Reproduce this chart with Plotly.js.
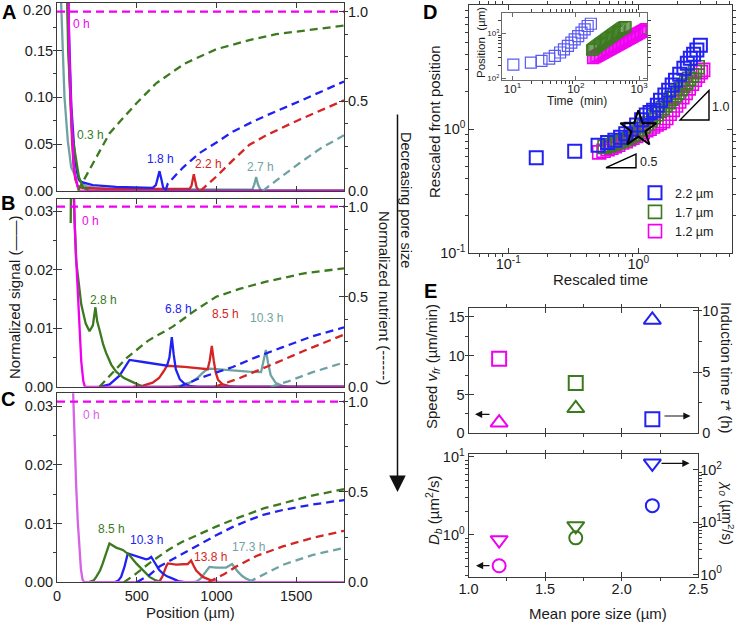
<!DOCTYPE html>
<html><head><meta charset="utf-8">
<script src="https://cdn.plot.ly/plotly-3.0.1.min.js"></script>
<style>body{margin:0;background:#fff}#chart{width:736px;height:623px}</style>
</head><body><div id="chart"></div>
<script>
// ================= DATA =================
// ---- Panel A (largest pores) : position (um), normalized signal (solid), normalized nutrient (dashed)
const posA_0h  = [20, 55, 68, 77, 86, 97, 104, 112, 120, 130, 142, 1800];
const sigA_0h  = [0.8, 0.4, 0.2, 0.15, 0.1, 0.05, 0.03, 0.018, 0.01, 0.004, 0, 0];
const posA_03h = [20, 70, 95, 103, 110, 120, 137, 162, 193, 220, 1800];
const sigA_03h = [0.6, 0.15, 0.06, 0.052, 0.045, 0.033, 0.015, 0.004, 0.0005, 0, 0];
const posA_18h = [20, 60, 75, 90, 110, 125, 141, 162, 224, 371, 500, 600, 620, 632, 643, 655, 665, 680, 1800];
const sigA_18h = [0.8, 0.3, 0.17, 0.09, 0.04, 0.02, 0.011, 0.009, 0.006, 0.0043, 0.0037, 0.0032, 0.006, 0.014, 0.021, 0.012, 0.004, 0, 0];
const posA_22h = [20, 58, 66, 75, 84, 95, 105, 115, 130, 160, 300, 500, 700, 830, 843, 851, 858, 866, 875, 890, 1800];
const sigA_22h = [0.8, 0.3, 0.2, 0.14, 0.09, 0.05, 0.025, 0.012, 0.005, 0.003, 0.0022, 0.002, 0.0019, 0.0019, 0.005, 0.012, 0.0178, 0.011, 0.004, 0, 0];
const posA_27h = [5, 26, 47, 68, 89, 115, 141, 180, 250, 400, 800, 1100, 1225, 1238, 1249, 1260, 1275, 1290, 1800];
const sigA_27h = [0.45, 0.2, 0.1, 0.053, 0.025, 0.016, 0.0107, 0.005, 0.0025, 0.0018, 0.0014, 0.0013, 0.0013, 0.007, 0.0148, 0.007, 0.0015, 0, 0];
const nutA_0h_x  = [0, 1800];
const nutA_0h    = [1, 1];
const nutA_03h_x = [131, 200, 266, 329, 403, 500, 622, 800, 998, 1200, 1374, 1600, 1800];
const nutA_03h   = [0, 0.11, 0.218, 0.32, 0.395, 0.49, 0.60, 0.71, 0.79, 0.84, 0.874, 0.90, 0.922];
const nutA_18h_x = [680, 695, 790, 893, 1000, 1102, 1226, 1312, 1521, 1800];
const nutA_18h   = [0, 0.04, 0.13, 0.21, 0.27, 0.33, 0.385, 0.42, 0.50, 0.61];
const nutA_22h_x = [900, 1000, 1102, 1207, 1312, 1520, 1800];
const nutA_22h   = [0, 0.08, 0.17, 0.257, 0.31, 0.397, 0.505];
const nutA_27h_x = [1290, 1400, 1520, 1650, 1800];
const nutA_27h   = [0, 0.075, 0.154, 0.235, 0.31];

// ---- Panel B
const posB_0h   = [60, 100, 110, 120, 130, 140, 152, 165, 175, 1800];
const sigB_0h   = [0.1, 0.04, 0.0285, 0.022, 0.0159, 0.009, 0.0044, 0.001, 0, 0];
const posB_28h  = [86, 92, 100, 120, 152, 180, 204, 225, 241, 252, 266, 290, 308, 340, 371, 420, 475, 540, 1800];
const sigB_28h  = [0.028, 0.05, 0.036, 0.0216, 0.0141, 0.0108, 0.0095, 0.0105, 0.0136, 0.0112, 0.0098, 0.0072, 0.0058, 0.0038, 0.0026, 0.0015, 0.0008, 0, 0];
const posB_68h  = [266, 330, 392, 430, 455, 550, 650, 690, 705, 720, 732, 745, 770, 800, 840, 880, 1800];
const sigB_68h  = [0, 0.0004, 0.0019, 0.0036, 0.0046, 0.0042, 0.0038, 0.0036, 0.005, 0.0085, 0.0055, 0.003, 0.0013, 0.0005, 0.0001, 0, 0];
const posB_85h  = [480, 540, 600, 640, 670, 690, 800, 900, 945, 958, 971, 983, 995, 1010, 1040, 1080, 1120, 1800];
const sigB_85h  = [0, 0.0002, 0.0007, 0.0015, 0.0027, 0.0036, 0.0034, 0.0031, 0.003, 0.0045, 0.007, 0.0045, 0.0025, 0.0012, 0.0004, 0.0001, 0, 0];
const posB_103h = [720, 780, 840, 880, 910, 940, 960, 1000, 1100, 1200, 1280, 1295, 1310, 1323, 1340, 1370, 1410, 1450, 1800];
const sigB_103h = [0, 0.0002, 0.0008, 0.0015, 0.0023, 0.003, 0.0031, 0.003, 0.0028, 0.0026, 0.0025, 0.0042, 0.0063, 0.0042, 0.002, 0.0007, 0.0002, 0, 0];
const nutB_0h_x   = [0, 1800];
const nutB_0h     = [1, 1];
const nutB_28h_x  = [266, 350, 434, 570, 726, 860, 998, 1150, 1312, 1550, 1800];
const nutB_28h    = [0, 0.08, 0.158, 0.255, 0.334, 0.42, 0.50, 0.545, 0.584, 0.63, 0.658];
const nutB_68h_x  = [768, 900, 1102, 1250, 1416, 1600, 1800];
const nutB_68h    = [0, 0.05, 0.11, 0.165, 0.22, 0.28, 0.33];
const nutB_85h_x  = [990, 1150, 1312, 1550, 1800];
const nutB_85h    = [0, 0.05, 0.11, 0.20, 0.29];
const nutB_103h_x = [1340, 1450, 1600, 1800];
const nutB_103h   = [0, 0.03, 0.08, 0.135];

// ---- Panel C (smallest pores)
const posC_0h   = [80, 99, 110, 120, 130, 141, 150, 160, 170, 1800];
const sigC_0h   = [0.05, 0.0324, 0.022, 0.0166, 0.0105, 0.0052, 0.0022, 0.0005, 0, 0];
const posC_85h  = [200, 230, 246, 270, 287, 305, 319, 329, 371, 413, 455, 497, 538, 580, 620, 660, 1800];
const sigC_85h  = [0, 0.0003, 0.0009, 0.002, 0.0032, 0.0045, 0.0058, 0.0066, 0.0059, 0.0055, 0.0046, 0.0032, 0.002, 0.0009, 0.0003, 0, 0];
const posC_103h = [360, 385, 402, 423, 444, 470, 497, 530, 559, 575, 591, 605, 622, 640, 663, 690, 726, 760, 800, 1800];
const sigC_103h = [0, 0.0003, 0.0009, 0.0026, 0.0049, 0.0047, 0.0045, 0.0042, 0.0039, 0.004, 0.0043, 0.0037, 0.0029, 0.0021, 0.0015, 0.001, 0.0006, 0.0002, 0, 0];
const posC_138h = [620, 643, 660, 674, 685, 695, 747, 820, 841, 857, 873, 914, 977, 1020, 1800];
const sigC_138h = [0, 0.0002, 0.0009, 0.002, 0.0027, 0.0032, 0.003, 0.0031, 0.0037, 0.0028, 0.002, 0.0009, 0.0002, 0, 0];
const posC_173h = [850, 873, 900, 925, 945, 956, 998, 1061, 1098, 1115, 1134, 1160, 1186, 1220, 1250, 1800];
const sigC_173h = [0, 0.0001, 0.0006, 0.0015, 0.0022, 0.0026, 0.0025, 0.0025, 0.0031, 0.0025, 0.0018, 0.0011, 0.0006, 0.0002, 0, 0];
const nutC_0h_x   = [0, 1800];
const nutC_0h     = [1, 1];
const nutC_85h_x  = [420, 500, 580, 700, 789, 900, 998, 1100, 1207, 1300, 1416, 1600, 1800];
const nutC_85h    = [0, 0.05, 0.106, 0.18, 0.225, 0.27, 0.308, 0.345, 0.382, 0.41, 0.437, 0.48, 0.515];
const nutC_103h_x = [500, 580, 643, 789, 900, 998, 1100, 1207, 1300, 1416, 1600, 1800];
const nutC_103h   = [0, 0.04, 0.087, 0.16, 0.215, 0.26, 0.305, 0.345, 0.375, 0.40, 0.43, 0.455];
const nutC_138h_x = [950, 1050, 1124, 1250, 1416, 1600, 1800];
const nutC_138h   = [0, 0.045, 0.087, 0.145, 0.198, 0.245, 0.285];
const nutC_173h_x = [1200, 1300, 1416, 1600, 1800];
const nutC_173h   = [0, 0.045, 0.096, 0.15, 0.19];

// ---- Panel D : rescaled time vs rescaled front position
const blueT = [0.164, 0.324, 0.49, 0.58, 0.66, 0.73, 0.80, 0.88, 0.97, 1.06, 1.15, 1.23, 1.31, 1.40, 1.48, 1.60, 1.71, 1.82, 1.93, 2.08, 2.24, 2.38, 2.51, 2.66, 2.82, 3.0];
const blueR = [0.587, 0.665, 0.743, 0.78, 0.815, 0.86, 0.92, 1.0, 1.08, 1.19, 1.30, 1.36, 1.42, 1.56, 1.71, 1.88, 2.06, 2.27, 2.48, 2.77, 3.09, 3.40, 3.72, 4.02, 4.34, 4.75];
const greenT = [0.55, 0.60, 0.65, 0.70, 0.75, 0.80, 0.86, 0.92, 0.98, 1.04, 1.10, 1.17, 1.24, 1.31, 1.38, 1.46, 1.54, 1.62, 1.71, 1.80, 1.90, 2.00, 2.11, 2.22, 2.34, 2.46, 2.59, 2.72, 2.86];
const greenR = [0.72, 0.74, 0.765, 0.785, 0.81, 0.83, 0.86, 0.90, 0.95, 1.00, 1.05, 1.11, 1.18, 1.25, 1.32, 1.40, 1.48, 1.56, 1.65, 1.76, 1.87, 1.97, 2.10, 2.24, 2.38, 2.54, 2.71, 2.90, 3.15];
const magT = [0.50, 0.54, 0.58, 0.62, 0.66, 0.70, 0.75, 0.80, 0.85, 0.90, 0.96, 1.02, 1.08, 1.15, 1.22, 1.30, 1.38, 1.46, 1.55, 1.64, 1.74, 1.84, 1.95, 2.06, 2.18, 2.31, 2.44, 2.58, 2.72, 2.87, 3.02, 3.15];
const magR = [0.65, 0.67, 0.69, 0.71, 0.73, 0.75, 0.78, 0.80, 0.83, 0.855, 0.88, 0.91, 0.945, 0.98, 1.01, 1.05, 1.09, 1.12, 1.16, 1.23, 1.33, 1.43, 1.55, 1.67, 1.81, 1.96, 2.13, 2.32, 2.50, 2.70, 2.88, 3.0];
const starT = [1.0];
const starR = [1.0];
const legendNames = ['2.2 \u00b5m', '1.7 \u00b5m', '1.2 \u00b5m'];

// ---- Panel D inset : time (min) vs position (um)
const inBlueT = [10.3, 19.5, 28.7, 38, 46.6, 56.5, 65, 75, 85, 96, 109, 123, 138, 154, 173];
const inBlueP = [205, 227, 248, 278, 318, 380, 448, 533, 631, 745, 884, 1050, 1250, 1480, 1660];
const inGreenT = [180, 187, 195, 203, 212, 221, 231, 241, 252, 263, 275, 287, 300, 313, 327, 341, 356, 372, 388, 405, 423, 442, 461, 481, 502, 524, 547, 571, 596, 615];
const inGreenP = [430, 450, 470, 492, 514, 537, 562, 588, 615, 643, 673, 703, 736, 768, 803, 838, 875, 915, 955, 997, 1042, 1088, 1135, 1185, 1236, 1290, 1345, 1380, 1400, 1410];
const inMagT = [187, 197, 207, 218, 229, 241, 253, 266, 280, 294, 309, 325, 342, 359, 378, 397, 417, 439, 461, 485, 510, 536, 563, 592, 622, 654, 688, 723, 760, 799, 840, 883, 928, 975, 1025, 1078, 1133, 1191, 1252, 1300];
const inMagP = [286, 297, 308, 320, 332, 345, 358, 372, 387, 402, 418, 434, 451, 468, 487, 505, 525, 546, 567, 590, 613, 637, 662, 689, 716, 744, 773, 803, 835, 868, 902, 937, 974, 1012, 1052, 1093, 1136, 1180, 1225, 1260];

// ---- Panel E
const poreSize      = [1.2, 1.7, 2.2];
const speedVfr      = [1.37, 3.22, 14.6];   // um/min (triangles, left)
const inductionTime = [6.09, 4.1, 1.15];    // h (squares, right)
const diffDb        = [0.405, 0.92, 2.37];  // um^2/s (circles, left)
const chi0          = [4.57, 8.5, 134];     // um^2/s (down triangles, right)

// Tick labels
const posTicks = [0, 500, 1000, 1500];
const posTickText = ['0', '500', '1000', '1500'];
const sigTicksA = [0, 0.05, 0.10, 0.15, 0.20];
const sigTickTextA = ['0.00', '0.05', '0.10', '0.15', ''];
const sigTicksBC = [0, 0.01, 0.02, 0.03];
const sigTickTextBC = ['0.00', '0.01', '0.02', '0.03'];
const nutTicks = [0, 0.5, 1];
const nutTickText = ['0.0', '0.5', '1.0'];
const poreTicks = [1.0, 1.5, 2.0, 2.5];
const poreTickText = ['1.0', '1.5', '2.0', '2.5'];

// ================= DRAWING =================
const W = 736, H = 623;
const X = px => px / W, Y = py => 1 - py / H;
const FONT = 'Liberation Sans, Arial, Helvetica, sans-serif';
const COL = {mag:'#f000f0', magC:'#d662e6', grn:'#3b7a1e', blu:'#2121f2', red:'#d42424', tea:'#6fa3a3', axis:'#3a3a3a', txt:'#1a1a1a'};

const traces = [];
function curve(x, y, xa, ya, color, dashed) {
  traces.push({type:'scatter', mode:'lines', x:x, y:y, xaxis:xa, yaxis:ya,
    line:{color:color, width:2.3, dash: dashed ? '8px,5px' : 'solid'},
    hoverinfo:'skip', showlegend:false});
}
// Panel A
curve(nutA_0h_x, nutA_0h, 'x', 'y2', COL.mag, true);
curve(nutA_03h_x, nutA_03h, 'x', 'y2', COL.grn, true);
curve(nutA_18h_x, nutA_18h, 'x', 'y2', COL.blu, true);
curve(nutA_22h_x, nutA_22h, 'x', 'y2', COL.red, true);
curve(nutA_27h_x, nutA_27h, 'x', 'y2', COL.tea, true);
curve(posA_27h, sigA_27h, 'x', 'y', COL.tea, false);
curve(posA_22h, sigA_22h, 'x', 'y', COL.red, false);
curve(posA_18h, sigA_18h, 'x', 'y', COL.blu, false);
curve(posA_03h, sigA_03h, 'x', 'y', COL.grn, false);
curve(posA_0h, sigA_0h, 'x', 'y', COL.mag, false);
// Panel B
curve(nutB_0h_x, nutB_0h, 'x2', 'y4', COL.mag, true);
curve(nutB_28h_x, nutB_28h, 'x2', 'y4', COL.grn, true);
curve(nutB_68h_x, nutB_68h, 'x2', 'y4', COL.blu, true);
curve(nutB_85h_x, nutB_85h, 'x2', 'y4', COL.red, true);
curve(nutB_103h_x, nutB_103h, 'x2', 'y4', COL.tea, true);
curve(posB_103h, sigB_103h, 'x2', 'y3', COL.tea, false);
curve(posB_85h, sigB_85h, 'x2', 'y3', COL.red, false);
curve(posB_68h, sigB_68h, 'x2', 'y3', COL.blu, false);
curve(posB_28h, sigB_28h, 'x2', 'y3', COL.grn, false);
curve(posB_0h, sigB_0h, 'x2', 'y3', COL.mag, false);
// Panel C
curve(nutC_0h_x, nutC_0h, 'x3', 'y6', COL.mag, true);
curve(nutC_85h_x, nutC_85h, 'x3', 'y6', COL.grn, true);
curve(nutC_103h_x, nutC_103h, 'x3', 'y6', COL.blu, true);
curve(nutC_138h_x, nutC_138h, 'x3', 'y6', COL.red, true);
curve(nutC_173h_x, nutC_173h, 'x3', 'y6', COL.tea, true);
curve(posC_173h, sigC_173h, 'x3', 'y5', COL.tea, false);
curve(posC_138h, sigC_138h, 'x3', 'y5', COL.red, false);
curve(posC_103h, sigC_103h, 'x3', 'y5', COL.blu, false);
curve(posC_85h, sigC_85h, 'x3', 'y5', COL.grn, false);
curve(posC_0h, sigC_0h, 'x3', 'y5', COL.magC, false);

// Panel D
function squares(x, y, xa, ya, color, size, lw, name, legend) {
  traces.push({type:'scatter', mode:'markers', x:x, y:y, xaxis:xa, yaxis:ya, name:name||'',
    marker:{symbol:'square-open', size:size, color:color, line:{width:lw, color:color}},
    hoverinfo:'skip', showlegend:!!legend});
}
squares(magT, magR, 'x4', 'y7', COL.mag, 13, 1.6, legendNames[2], true);
squares(greenT, greenR, 'x4', 'y7', COL.grn, 13, 1.6, legendNames[1], true);
squares(blueT, blueR, 'x4', 'y7', COL.blu, 13, 2, legendNames[0], true);
traces.push({type:'scatter', mode:'markers', x:starT, y:starR, xaxis:'x4', yaxis:'y7',
  marker:{symbol:'star-open', size:27, color:'#000', line:{width:2, color:'#000'}}, hoverinfo:'skip', showlegend:false});
// Inset
squares(inMagT, inMagP, 'x5', 'y8', COL.mag, 11, 1.2);
squares(inGreenT, inGreenP, 'x5', 'y8', COL.grn, 11, 1.0);
squares(inBlueT, inBlueP, 'x5', 'y8', '#5a5af5', 11, 1.2);

// Panel E
const ptColors = [COL.mag, COL.grn, COL.blu];
function pts(x, y, xa, ya, symbol, size) {
  traces.push({type:'scatter', mode:'markers', x:x, y:y, xaxis:xa, yaxis:ya,
    marker:{symbol:symbol, size:size, color:ptColors, line:{width:2, color:ptColors}},
    hoverinfo:'skip', showlegend:false});
}
pts(poreSize, speedVfr, 'x6', 'y9', 'triangle-up-open', 15);
pts(poreSize, inductionTime, 'x6', 'y10', 'square-open', 14);
pts(poreSize, diffDb, 'x7', 'y11', 'circle-open', 13);
pts(poreSize, chi0, 'x7', 'y12', 'triangle-down-open', 15);

// ================= LAYOUT =================
const baseAx = {showgrid:false, zeroline:false, showline:true, linecolor:COL.axis, linewidth:1,
  ticks:'inside', ticklen:5, tickwidth:1, tickcolor:COL.axis,
  tickfont:{family:FONT, size:14.5, color:COL.txt}, fixedrange:true};
const axis = o => Object.assign({}, baseAx, o);
const minorLin = d => ({dtick:d, tick0:0, ticklen:3, tickwidth:1, tickcolor:COL.axis, showgrid:false});
const minorArr = v => ({tickmode:'array', tickvals:v, ticklen:3, tickwidth:1, tickcolor:COL.axis, showgrid:false});
const sup = n => '10<sup>' + n + '</sup>';

const xP = [X(57), X(344)];
const layout = {
  width: W, height: H, margin:{l:0, r:0, t:0, b:0},
  paper_bgcolor:'#fff', plot_bgcolor:'rgba(0,0,0,0)',
  font:{family:FONT, color:COL.txt},
  showlegend:true,
  legend:{x:X(635), y:Y(178), xanchor:'left', yanchor:'top', bgcolor:'rgba(0,0,0,0)',
    font:{family:FONT, size:12.5, color:COL.txt}, traceorder:'reversed', itemsizing:'trace', tracegroupgap:0},
  // Panel A
  xaxis: axis({domain:xP, anchor:'y', range:[0,1800], tickvals:posTicks, showticklabels:false, mirror:'ticks'}),
  yaxis: axis({domain:[Y(190.8), Y(2.7)], anchor:'x', range:[0,0.201], tickvals:sigTicksA, ticktext:sigTickTextA, minor:minorLin(0.025)}),
  yaxis2: axis({overlaying:'y', anchor:'x', side:'right', range:[0,1.05], tickvals:nutTicks, ticktext:nutTickText, minor:minorLin(0.125)}),
  // Panel B
  xaxis2: axis({domain:xP, anchor:'y3', range:[0,1800], tickvals:posTicks, showticklabels:false, mirror:'ticks'}),
  yaxis3: axis({domain:[Y(386.8), Y(198.5)], anchor:'x2', range:[0,0.0322], tickvals:sigTicksBC, ticktext:sigTickTextBC, minor:minorLin(0.005)}),
  yaxis4: axis({overlaying:'y3', anchor:'x2', side:'right', range:[0,1.0455], tickvals:nutTicks, ticktext:nutTickText, minor:minorLin(0.125)}),
  // Panel C
  xaxis3: axis({domain:xP, anchor:'y5', range:[0,1800], tickvals:posTicks, ticktext:posTickText, mirror:'ticks'}),
  yaxis5: axis({domain:[Y(582.2), Y(393.3)], anchor:'x3', range:[0,0.0322], tickvals:sigTicksBC, ticktext:sigTickTextBC, minor:minorLin(0.005)}),
  yaxis6: axis({overlaying:'y5', anchor:'x3', side:'right', range:[0,1.0466], tickvals:nutTicks, ticktext:nutTickText, minor:minorLin(0.125)}),
  // Panel D
  xaxis4: axis({type:'log', domain:[X(469.3), X(731.7)], anchor:'y7', range:[-1.3, 0.718], tickvals:[0.1, 1], ticktext:[sup('-1'), sup('0')], mirror:'ticks',
    ticklabelstandoff:-3,
    minor:minorArr([0.06,0.07,0.08,0.09,0.2,0.3,0.4,0.5,0.6,0.7,0.8,0.9,2,3,4,5])}),
  yaxis7: axis({type:'log', domain:[Y(253.3), Y(5)], anchor:'x4', range:[-1, 1], tickvals:[0.1, 1, 10], ticktext:[sup('-1'), sup('0'), sup('1')], mirror:'ticks',
    minor:minorArr([0.2,0.3,0.4,0.5,0.6,0.7,0.8,0.9,2,3,4,5,6,7,8,9])}),
  // Inset
  xaxis5: axis({type:'log', domain:[X(502), X(647)], anchor:'y8', range:[0.834, 3.125], tickvals:[10, 100, 1000], ticktext:[sup(1), sup(2), sup(3)],
    mirror:'ticks', linecolor:'#6a6a6a', tickcolor:'#6a6a6a', ticklen:4, tickfont:{family:FONT, size:11.5, color:COL.txt}, ticklabelstandoff:-2,
    minor:minorArr([20,30,40,50,60,70,80,90,200,300,400,500,600,700,800,900])}),
  yaxis8: axis({type:'log', domain:[Y(80), Y(13)], anchor:'x5', range:[1.967, 3.46], tickvals:[100, 1000], ticktext:[sup(2), sup(3)],
    mirror:'ticks', linecolor:'#6a6a6a', tickcolor:'#6a6a6a', ticklen:4, tickfont:{family:FONT, size:8, color:COL.txt},
    minor:minorArr([200,300,400,500,600,700,800,900,2000])}),
  // Panel E top
  xaxis6: axis({domain:[X(468.5), X(698.3)], anchor:'y9', range:[1, 2.5], tickvals:poreTicks, showticklabels:false, mirror:'ticks', minor:minorLin(0.25)}),
  yaxis9: axis({domain:[Y(433.3), Y(308.3)], anchor:'x6', range:[0, 16.1], tickvals:[0,5,10,15], minor:minorLin(2.5)}),
  yaxis10: axis({overlaying:'y9', anchor:'x6', side:'right', range:[0, 10.2], tickvals:[0,5,10], minor:minorLin(2.5)}),
  // Panel E bottom
  xaxis7: axis({domain:[X(468.5), X(698.3)], anchor:'y11', range:[1, 2.5], tickvals:poreTicks, ticktext:poreTickText, mirror:'ticks', minor:minorLin(0.25),
    ticklabelstandoff:-2}),
  yaxis11: axis({type:'log', domain:[Y(577.3), Y(454.3)], anchor:'x7', range:[-0.54, 1.03], tickvals:[1, 10], ticktext:[sup(0), sup(1)],
    minor:minorArr([0.3,0.4,0.5,0.6,0.7,0.8,0.9,2,3,4,5,6,7,8,9])}),
  yaxis12: axis({type:'log', overlaying:'y11', anchor:'x7', side:'right', range:[-0.054, 2.30], tickvals:[1, 10, 100], ticktext:[sup(0), sup(1), sup(2)],
    ticklabelstandoff:-2, minor:minorArr([2,3,4,5,6,7,8,9,20,30,40,50,60,70,80,90,200])}),
  annotations:[], shapes:[]
};

function ann(text, px, py, o) {
  o = o || {};
  layout.annotations.push({text:text, x:X(px), y:Y(py), xref:'paper', yref:'paper', showarrow:false,
    xanchor:o.xanchor||'center', yanchor:o.yanchor||'middle', textangle:o.angle||0,
    font:{family:FONT, size:o.size||15, color:o.color||COL.txt}});
}
function arrow(hx, hy, tx, ty, size, width) {
  layout.annotations.push({text:'', x:X(hx), y:Y(hy), xref:'paper', yref:'paper', showarrow:true,
    ax:tx-hx, ay:ty-hy, axref:'pixel', ayref:'pixel', arrowhead:2, arrowsize:size, arrowwidth:width,
    arrowcolor:'#111', standoff:0, startstandoff:0});
}
// panel letters
[['A',9,12],['B',8,203],['C',8,399],['D',430,12],['E',430,291]].forEach(l => ann('<b>'+l[0]+'</b>', l[1], l[2], {size:20, color:'#000'}));
// top tick label of A
ann('0.20', 53, 10, {xanchor:'right', size:14.5});
// axis titles
ann('Normalized signal (\u2014\u2014)', 14, 298, {angle:-90});
ann('Normalized nutrient (------)', 385, 298, {angle:90});
ann('Decreasing pore size', 406, 200, {angle:90, size:14.5});
ann('Position (\u00b5m)', 190, 612);
ann('Rescaled front position', 435, 122, {angle:-90});
ann('Rescaled time', 600, 279);
ann('Position  (\u00b5m)', 481, 43, {angle:-90, size:11.5});
ann('Time  (min)', 577, 101, {size:12});
ann('Speed <i>v</i><sub><i>fr</i></sub> (\u00b5m/min)', 433, 367, {angle:-90});
ann('Induction time <i>\u03c4</i>* (h)', 727, 368, {angle:90});
ann('<i>D</i><sub><i>b</i></sub> (\u00b5m<sup>2</sup>/s)', 433, 510, {angle:-90});
ann('<i>\u03c7</i><sub><i>0</i></sub> (\u00b5m<sup>2</sup>/s)', 726.5, 512, {angle:90, size:14});
ann('Mean pore size (\u00b5m)', 598, 613);
// slope labels
ann('1.0', 720.5, 107, {size:12.5});
ann('0.5', 648.3, 161.7, {size:12.5});
// curve labels
const labs = [
  ['0 h',81.7,24,COL.mag],['0.3 h',90,135,COL.grn],['1.8 h',160.5,159.3,COL.blu],['2.2 h',208.3,164,COL.red],['2.7 h',260,166.7,COL.tea],
  ['0 h',90.7,221,COL.mag],['2.8 h',103.3,300,COL.grn],['6.8 h',178.3,309.3,COL.blu],['8.5 h',225,314,COL.red],['10.3 h',266.7,318,COL.tea],
  ['0 h',91.7,415,COL.magC],['8.5 h',111.7,528.5,COL.grn],['10.3 h',146,540,COL.blu],['13.8 h',210.5,556.5,COL.red],['17.3 h',248.3,546.7,COL.tea]
];
labs.forEach(l => ann(l[0], l[1], l[2], {size:12, color:l[3]}));
// arrows
arrow(397.5, 492, 397.5, 113, 2.2, 1.5);
arrow(475, 414.3, 491, 414.3, 1.2, 1.2);
arrow(690.5, 416, 663, 416, 1.2, 1.2);
arrow(476, 565.7, 491, 565.7, 1.2, 1.2);
arrow(689.5, 463.3, 660, 463.3, 1.2, 1.2);
// slope triangles
function tri(p) {
  layout.shapes.push({type:'path', xref:'paper', yref:'paper',
    path:'M ' + p.map(q => X(q[0]) + ',' + Y(q[1])).join(' L ') + ' Z', line:{color:'#000', width:1.4}, fillcolor:'rgba(0,0,0,0)'});
}
tri([[680,120],[709,120],[709,90.5]]);
tri([[606,167.7],[636,167.7],[636,154]]);

Plotly.newPlot('chart', traces, layout, {staticPlot:true, displayModeBar:false});
</script>
</body></html>
